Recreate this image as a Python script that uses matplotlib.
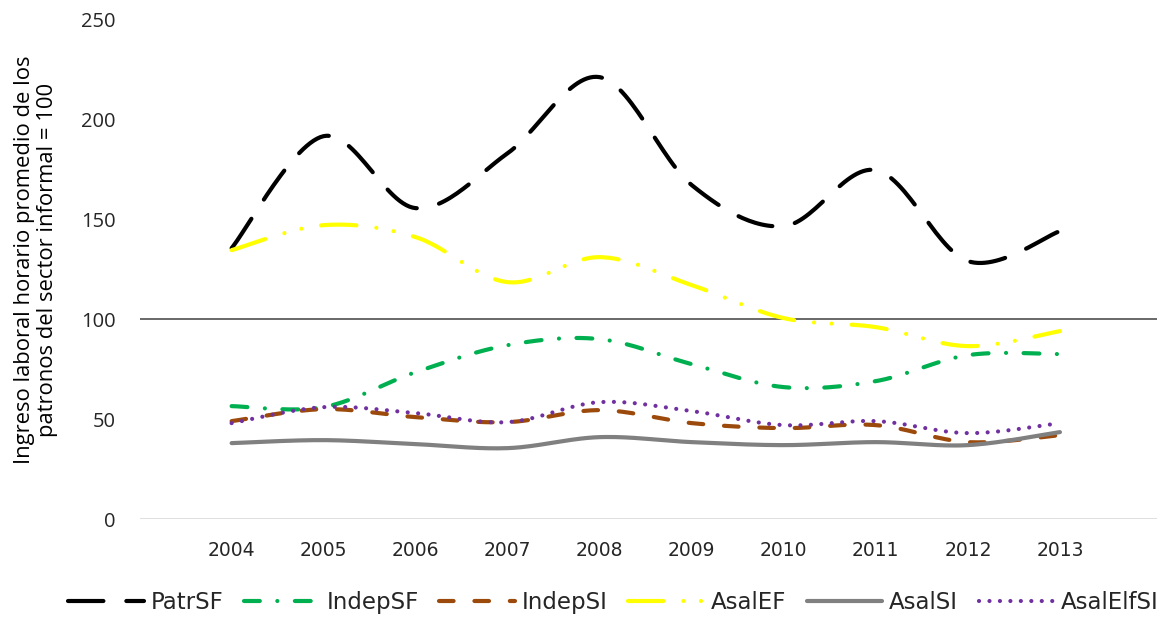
"""Ingreso laboral horario relativo a patronos del sector informal, 2004-2013"""
import numpy as np
from matplotlib import pyplot as plt

years = [2004, 2005, 2006, 2007, 2008, 2009, 2010, 2011, 2012, 2013]

patr_sf = [135.5, 191.5, 155.5, 183, 221, 167, 146.5, 174.5, 129, 144]
indep_sf = [56.5, 56, 73.5, 87, 90, 77.5, 66, 69, 82, 82.5]
indep_si = [49, 55, 51, 48.5, 54.5, 48, 45.5, 47, 38.5, 42]
asal_ef = [134.5, 147, 141, 118.5, 131, 117, 100.5, 96, 86.5, 94]
asal_si = [38, 39.5, 37.5, 35.5, 41, 38.5, 37, 38.5, 37, 43.5]
asal_elf_si = [48, 56, 53, 48.5, 58.5, 54, 47, 49, 43, 48]

labels = ["PatrSF", "IndepSF", "IndepSI", "AsalEF", "AsalSI", "AsalElfSI"]


def smooth(xs, ys, steps=30):
    """Excel style smoothed line (Catmull-Rom bezier through every point)"""
    xs = np.asarray(xs, float)
    ys = np.asarray(ys, float)
    px = np.concatenate([[xs[0]], xs, [xs[-1]]])
    py = np.concatenate([[ys[0]], ys, [ys[-1]]])
    out_x, out_y = [], []
    t = np.linspace(0, 1, steps)
    for i in range(1, len(px) - 2):
        p0 = np.array([px[i], py[i]])
        p3 = np.array([px[i + 1], py[i + 1]])
        c1 = p0 + (np.array([px[i + 1], py[i + 1]]) - np.array([px[i - 1], py[i - 1]])) / 6
        c2 = p3 - (np.array([px[i + 2], py[i + 2]]) - np.array([px[i], py[i]])) / 6
        pts = ((1 - t) ** 3)[:, None] * p0 + (3 * (1 - t) ** 2 * t)[:, None] * c1 \
            + (3 * (1 - t) * t ** 2)[:, None] * c2 + (t ** 3)[:, None] * p3
        out_x.extend(pts[:, 0])
        out_y.extend(pts[:, 1])
    return out_x, out_y


fig = plt.figure(figsize=(11.73, 6.18), dpi=100)
ax = fig.add_axes([0.119, 0.160, 0.867, 0.809])

lw = 3.0
styles = [
    dict(color="black", dashes=(8.5, 5.5)),
    dict(color="#00B050", dashes=(3.8, 4.2, 0.01, 4.2)),
    dict(color="#9C4A0C", dashes=(3.5, 5)),
    dict(color="#FFFF00", dashes=(8.5, 4.8, 0.01, 4.2, 0.01, 4.8)),
    dict(color="#808080"),
    dict(color="#7030A0", dashes=(0.01, 2.5)),
]
series = [patr_sf, indep_sf, indep_si, asal_ef, asal_si, asal_elf_si]

ax.axhline(100, color="#404040", lw=1.1, zorder=1)
ax.axhline(0, color="#D9D9D9", lw=1.2, zorder=1)

for vals, lab, st in zip(series, labels, styles):
    sx, sy = smooth(years, vals)
    ax.plot(sx, sy, lw=lw, label=lab, solid_capstyle="round",
            dash_capstyle="round", zorder=3, **st)

ax.set_xlim(2003, 2014.05)
ax.set_ylim(0, 250)
ax.set_xticks(years)
ax.set_yticks([0, 50, 100, 150, 200, 250])
for s in ax.spines.values():
    s.set_visible(False)
ax.tick_params(length=0, labelsize=13.5, colors="#262626")
ax.tick_params(axis="x", pad=16)
ax.tick_params(axis="y", pad=17)
for lab in ax.get_yticklabels():
    lab.set_family("Open Sans")
    lab.set_fontsize(14.5)

fig.text(0.031, 0.579, "Ingreso laboral horario promedio de los\npatronos del sector informal = 100",
         rotation=90, ha="center", va="center", fontsize=15.8, family="Open Sans",
         linespacing=1.12, color="black")

ax.legend(loc="center", bbox_to_anchor=(0.523, 0.025), bbox_transform=fig.transFigure,
          ncol=6, frameon=False, fontsize=16.5, handlelength=3.3, columnspacing=0.9,
          handletextpad=0.3, labelcolor="#262626")

plt.savefig("out.png", dpi=100)
